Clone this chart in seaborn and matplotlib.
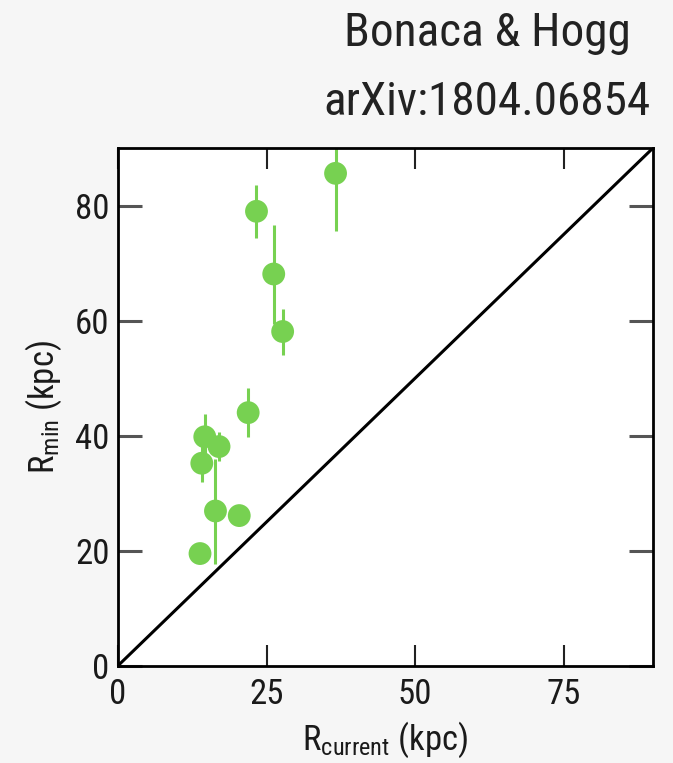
import matplotlib
matplotlib.use("Agg")
import matplotlib.pyplot as plt
import seaborn as sns
import pandas as pd

# data
r_current = [36.6, 23.3, 26.2, 27.7, 21.9, 14.6, 14.1, 17.0, 16.4, 20.4, 13.8]
r_min     = [85.6, 79.0, 68.1, 58.1, 44.0, 39.8, 35.2, 38.1, 26.9, 26.1, 19.5]
err_lo    = [10.0, 4.6, 8.7, 4.0, 4.2, 3.9, 3.2, 2.5, 9.3, 0.0, 0.0]
err_hi    = [8.0, 4.6, 8.6, 3.9, 4.3, 3.9, 3.2, 2.6, 9.1, 0.0, 0.0]
x_ticks = [0, 25, 50, 75]
y_ticks = [0, 20, 40, 60, 80]

sns.set_theme(style="white")
font = ['Roboto Condensed', 'Liberation Sans Narrow', 'Roboto', 'DejaVu Sans']
plt.rcParams['font.family'] = font

green = "#77d151"
bg = "#f6f6f6"

fig = plt.figure(figsize=(6.73, 7.63), dpi=100, facecolor=bg)
ax = fig.add_axes([0.1753, 0.1275, 0.7950, 0.6785])
ax.set_facecolor("white")

df = pd.DataFrame({"rc": r_current, "rm": r_min, "lo": err_lo, "hi": err_hi})

ax.plot([0, 90], [0, 90], color="black", lw=2.2, zorder=1)
ax.errorbar(df["rc"], df["rm"], yerr=[df["lo"], df["hi"]], fmt="none",
            ecolor=green, elinewidth=2.2, capsize=0, zorder=2)
sns.scatterplot(data=df, x="rc", y="rm", ax=ax, color=green, s=270,
                edgecolor="none", linewidth=0, zorder=3, clip_on=True)

ax.set_xlim(0, 90)
ax.set_ylim(0, 90)
ax.set_xticks(x_ticks)
ax.set_yticks(y_ticks)
ax.tick_params(axis="both", direction="in", top=True, right=True,
               bottom=True, left=True, labelsize=25, labelcolor="#1a1a1a")
ax.tick_params(axis="y", length=17, width=2.2, color="#555555", pad=6)
ax.tick_params(axis="x", length=15, width=1.5, color="#222222", pad=9)
for s in ax.spines.values():
    s.set_color("black")
    s.set_linewidth(2)

ax.set_xlabel(r"$\mathregular{R_{current}}$ (kpc)", fontsize=25, labelpad=6,
              color="#1a1a1a")
ax.set_ylabel(r"$\mathregular{R_{min}}$ (kpc)", fontsize=25, labelpad=8,
              color="#1a1a1a")

fig.text(0.937, 0.957, "Bonaca & Hogg", ha="right", va="center",
         fontsize=34, color="#222222")
fig.text(0.967, 0.866, "arXiv:1804.06854", ha="right", va="center",
         fontsize=34, color="#222222")

fig.savefig("out.png", dpi=100, facecolor=bg)
